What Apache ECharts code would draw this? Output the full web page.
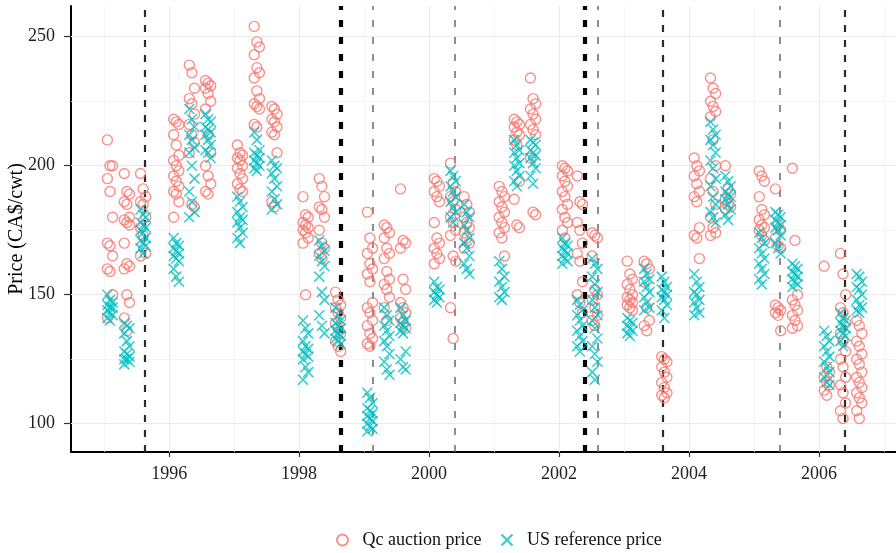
<!DOCTYPE html>
<html>
<head>
<meta charset="utf-8">
<script src="https://cdn.jsdelivr.net/npm/echarts@6/dist/echarts.min.js"></script>
<style>
    html, body { margin: 0; padding: 0; background: #fff; }
    #myChart { width: 896px; height: 553px; }
</style>
</head>
<body>
<div id="myChart"></div>
<script>
// sale dates of each auction season (3 sales per season)
var saleDates = [
    [1995.05, 1995.09, 1995.13], [1995.31, 1995.35, 1995.39], [1995.56, 1995.60, 1995.64],
    [1996.07, 1996.11, 1996.15], [1996.31, 1996.35, 1996.39], [1996.56, 1996.60, 1996.64],
    [1997.05, 1997.09, 1997.13], [1997.31, 1997.35, 1997.39], [1997.58, 1997.62, 1997.66],
    [1998.06, 1998.10, 1998.14], [1998.31, 1998.35, 1998.39], [1998.56, 1998.60, 1998.64],
    [1999.05, 1999.09, 1999.13], [1999.31, 1999.35, 1999.39], [1999.56, 1999.60, 1999.64],
    [2000.08, 2000.12, 2000.16], [2000.33, 2000.37, 2000.41], [2000.54, 2000.58, 2000.62],
    [2001.08, 2001.12, 2001.16], [2001.31, 2001.35, 2001.39], [2001.56, 2001.60, 2001.64],
    [2002.05, 2002.09, 2002.13], [2002.28, 2002.32, 2002.36], [2002.51, 2002.55, 2002.59],
    [2003.05, 2003.09, 2003.13], [2003.31, 2003.35, 2003.39], [2003.58, 2003.62, 2003.66],
    [2004.08, 2004.12, 2004.16], [2004.33, 2004.37, 2004.41], [2004.56, 2004.60, 2004.64],
    [2005.08, 2005.12, 2005.16], [2005.33, 2005.37, 2005.41], [2005.59, 2005.63, 2005.67],
    [2006.08, 2006.12, 2006.16], [2006.33, 2006.37, 2006.41], [2006.58, 2006.62, 2006.66]
];

// Qc auction price, one list per season
var qcPrices = [
    [210, 200, 200, 195, 190, 180, 170, 169, 165, 160, 159, 150, 141],
    [197, 190, 189, 186, 185, 180, 179, 178, 177, 170, 162, 161, 160, 150, 147, 141, 136],
    [197, 191, 188, 186, 185, 180, 176, 173, 166, 165],
    [218, 217, 216, 212, 208, 204, 202, 200, 198, 196, 194, 192, 190, 189, 186, 180],
    [239, 236, 230, 226, 224, 220, 216, 212, 209, 205, 185, 184],
    [233, 232, 231, 230, 228, 225, 222, 212, 205, 200, 196, 193, 190, 189],
    [208, 205, 204, 203, 202, 200, 199, 197, 195, 193, 191, 190],
    [254, 248, 246, 243, 238, 236, 234, 229, 226, 224, 223, 222, 216, 215],
    [223, 222, 220, 218, 217, 215, 213, 212, 205, 186, 184],
    [188, 181, 180, 178, 177, 176, 175, 174, 172, 170, 150],
    [195, 192, 188, 184, 183, 180, 175, 170, 168, 166, 164],
    [151, 148, 146, 145, 143, 141, 139, 137, 135, 132, 130, 128],
    [182, 172, 168, 166, 162, 160, 158, 155, 147, 145, 143, 140, 138, 135, 133, 131, 130],
    [177, 176, 174, 172, 168, 166, 164, 159, 156, 154, 152, 149, 145, 140],
    [191, 171, 170, 168, 156, 152, 147, 145, 143, 141, 139, 137],
    [195, 194, 192, 190, 188, 186, 178, 172, 170, 168, 166, 164, 162],
    [201, 193, 190, 188, 186, 183, 180, 178, 175, 173, 165, 163, 145, 133],
    [188, 185, 182, 180, 178, 176, 174, 172, 170, 168],
    [192, 190, 188, 186, 184, 182, 180, 178, 176, 174, 172, 165],
    [218, 217, 216, 215, 213, 212, 210, 208, 194, 187, 177, 176],
    [234, 226, 224, 222, 220, 218, 216, 214, 212, 203, 182, 181],
    [200, 199, 198, 196, 194, 192, 190, 188, 185, 183, 180, 178, 175, 172],
    [196, 186, 185, 178, 175, 170, 166, 163, 155, 150, 147, 143],
    [174, 173, 172, 165, 152, 150, 148, 145, 142, 140, 138],
    [163, 158, 156, 154, 152, 150, 149, 148, 147, 146, 145, 144],
    [163, 162, 160, 155, 145, 140, 138, 136],
    [126, 125, 124, 122, 120, 118, 116, 114, 112, 111, 110],
    [203, 200, 198, 196, 193, 190, 188, 186, 176, 173, 172, 164],
    [234, 230, 228, 225, 223, 221, 219, 210, 200, 195, 190, 185, 180, 176, 174, 173],
    [200, 191, 189, 187, 185, 184, 183],
    [198, 196, 194, 188, 183, 181, 179, 177, 176, 175, 173, 171],
    [191, 177, 175, 172, 169, 168, 146, 145, 144, 143, 142, 136],
    [199, 171, 150, 148, 146, 144, 142, 140, 138, 137],
    [161, 122, 120, 118, 116, 115, 113, 111],
    [166, 158, 150, 145, 143, 139, 135, 132, 128, 125, 122, 118, 115, 112, 108, 105, 102],
    [140, 138, 135, 132, 130, 127, 125, 123, 120, 118, 116, 114, 112, 110, 108, 105, 102]
];

// US reference price, one list per season
var usPrices = [
    [150, 148, 147, 146, 145, 145, 144, 143, 142, 141, 140],
    [139, 138, 137, 135, 132, 130, 128, 127, 126, 125, 125, 124, 123],
    [183, 181, 180, 178, 177, 176, 175, 174, 172, 171, 170, 169, 168, 166],
    [172, 170, 169, 168, 167, 166, 165, 164, 163, 160, 157, 155],
    [222, 218, 215, 212, 210, 207, 205, 200, 195, 190, 186, 182, 180],
    [220, 218, 217, 215, 214, 213, 212, 210, 208, 206, 205, 203],
    [188, 186, 184, 182, 180, 179, 178, 176, 174, 172, 170],
    [213, 210, 206, 205, 204, 203, 202, 201, 200, 199, 198],
    [202, 200, 199, 197, 195, 192, 190, 187, 185, 183],
    [140, 137, 135, 132, 130, 129, 128, 127, 126, 125, 122, 120, 117],
    [171, 169, 167, 165, 163, 161, 157, 151, 148, 142, 138, 135],
    [145, 142, 140, 139, 138, 137, 136, 135, 134, 133, 132, 131],
    [112, 110, 108, 106, 105, 104, 103, 102, 101, 100, 99, 98, 97],
    [145, 142, 140, 138, 136, 134, 132, 130, 127, 124, 121, 119],
    [145, 142, 140, 139, 138, 137, 136, 135, 128, 125, 122, 121],
    [155, 153, 152, 151, 150, 149, 148, 147],
    [198, 196, 194, 192, 190, 188, 186, 184, 182, 180, 178],
    [185, 182, 180, 177, 175, 172, 170, 168, 165, 162, 160, 158],
    [163, 160, 157, 155, 153, 151, 149, 148],
    [210, 208, 206, 205, 203, 201, 200, 198, 196, 194, 192],
    [210, 209, 208, 206, 205, 204, 203, 201, 199, 196, 193],
    [172, 170, 169, 168, 167, 166, 165, 164, 163, 162],
    [148, 146, 144, 142, 140, 138, 136, 134, 132, 130, 128],
    [164, 162, 160, 157, 154, 151, 148, 145, 142, 140, 137, 133, 130, 127, 124, 120, 117],
    [141, 140, 139, 138, 137, 136, 135, 134],
    [160, 158, 156, 155, 153, 151, 149, 147, 145, 144],
    [157, 155, 153, 152, 151, 150, 149, 148, 146, 144, 141],
    [158, 155, 153, 151, 150, 148, 147, 145, 143, 142],
    [217, 214, 212, 210, 208, 205, 202, 199, 195, 192, 188, 185, 182, 180, 178],
    [196, 194, 192, 190, 189, 188, 187, 185, 183, 181, 179],
    [174, 172, 170, 168, 166, 164, 162, 160, 158, 156, 154],
    [182, 181, 180, 179, 178, 177, 176, 175, 173, 170, 168, 166],
    [162, 161, 160, 159, 158, 157, 156, 155, 154, 153],
    [136, 134, 132, 130, 128, 126, 124, 122, 120, 118, 116, 115],
    [143, 141, 140, 139, 138, 137, 136, 135, 134, 132, 130],
    [158, 157, 155, 153, 152, 150, 148, 146, 145, 144, 143]
];

// axis ticks
var xTicks = [1996, 1998, 2000, 2002, 2004, 2006];
var xMinorTicks = [1995, 1997, 1999, 2001, 2003, 2005, 2007];
var yTicks = [100, 150, 200, 250];
var yMinorTicks = [125, 175, 225];

// event dates (vertical dashed lines)
var eventsMajor = [1998.64, 2002.39];
var eventsDark = [1995.62, 2003.60, 2006.40];
var eventsLight = [1999.14, 2000.40, 2002.60, 2005.40];

var SERIF = 'Liberation Serif, Times New Roman, serif';
var QC_COLOR = '#F8766D';
var US_COLOR = '#00BFC4';
var CROSS = 'path://M0,0L10,10M10,0L0,10';

function toPoints(prices) {
    var pts = [];
    for (var g = 0; g < prices.length; g++) {
        for (var i = 0; i < prices[g].length; i++) {
            pts.push([saleDates[g][i % saleDates[g].length], prices[g][i]]);
        }
    }
    return pts;
}

var gridLines = [];
xTicks.forEach(function (v) { gridLines.push({ xAxis: v, lineStyle: { color: '#EBEBEB', width: 1.1, type: 'solid' } }); });
xMinorTicks.forEach(function (v) { gridLines.push({ xAxis: v, lineStyle: { color: '#F3F3F3', width: 0.8, type: 'solid' } }); });
yTicks.forEach(function (v) { gridLines.push({ yAxis: v, lineStyle: { color: '#EBEBEB', width: 1.1, type: 'solid' } }); });
yMinorTicks.forEach(function (v) { gridLines.push({ yAxis: v, lineStyle: { color: '#F3F3F3', width: 0.8, type: 'solid' } }); });

var eventLines = [];
eventsMajor.forEach(function (v) { eventLines.push({ xAxis: v, lineStyle: { color: '#000', width: 4.2, type: [7, 10] } }); });
eventsDark.forEach(function (v) { eventLines.push({ xAxis: v, lineStyle: { color: '#2b2b2b', width: 2.2, type: [7, 8] } }); });
eventsLight.forEach(function (v) { eventLines.push({ xAxis: v, lineStyle: { color: '#6a6a6a', width: 1.5, type: [7, 10] } }); });

var dom = document.getElementById('myChart');
var myChart = echarts.init(dom, null, { renderer: 'canvas' });

var option = {
    animation: false,
    backgroundColor: '#fff',
    grid: {
        left: 71,
        right: 0,
        top: 6,
        bottom: 101,
        containLabel: false,
        outerBoundsMode: 'none'
    },
    legend: {
        left: 336,
        top: 531,
        padding: 0,
        itemWidth: 30,
        itemHeight: 11,
        itemGap: 19,
        textStyle: { fontFamily: SERIF, fontSize: 18, color: '#111' },
        data: [
            { name: 'Qc auction price', icon: 'circle' },
            { name: 'US reference price', icon: CROSS }
        ]
    },
    xAxis: {
        type: 'value',
        min: 1994.49,
        max: 2007.185,
        axisLine: { show: true, onZero: false, lineStyle: { color: '#000', width: 2 } },
        axisTick: { show: true, customValues: xTicks, length: 5, lineStyle: { color: '#333', width: 1.2 } },
        axisLabel: {
            customValues: xTicks,
            margin: 13,
            fontFamily: SERIF,
            fontSize: 18,
            color: '#222',
            formatter: function (v) { return String(v); }
        },
        splitLine: { show: false }
    },
    yAxis: {
        type: 'value',
        min: 89.03,
        max: 261.9,
        name: 'Price (CA$/cwt)',
        nameLocation: 'middle',
        nameGap: 44,
        nameMoveOverlap: false,
        nameTextStyle: { fontFamily: SERIF, fontSize: 20, color: '#000' },
        axisLine: { show: true, onZero: false, lineStyle: { color: '#000', width: 2 } },
        axisTick: { show: true, customValues: yTicks, length: 7, lineStyle: { color: '#333', width: 1.2 } },
        axisLabel: {
            customValues: yTicks,
            margin: 16,
            fontFamily: SERIF,
            fontSize: 18,
            color: '#222'
        },
        splitLine: { show: false }
    },
    series: [
        {
            // background grid
            type: 'scatter',
            data: [],
            silent: true,
            markLine: {
                silent: true,
                z: 1,
                symbol: ['none', 'none'],
                label: { show: false },
                data: gridLines
            }
        },
        {
            // event lines
            type: 'scatter',
            data: [],
            silent: true,
            markLine: {
                silent: true,
                z: 3,
                symbol: ['none', 'none'],
                label: { show: false },
                data: eventLines
            }
        },
        {
            name: 'Qc auction price',
            type: 'scatter',
            z: 10,
            symbol: 'circle',
            symbolSize: 10,
            itemStyle: { color: 'rgba(255,255,255,0)', borderColor: QC_COLOR, borderWidth: 1.4 },
            data: toPoints(qcPrices)
        },
        {
            name: 'US reference price',
            type: 'scatter',
            z: 11,
            symbol: CROSS,
            symbolSize: 10,
            itemStyle: { color: 'rgba(255,255,255,0)', borderColor: US_COLOR, borderWidth: 1.5 },
            data: toPoints(usPrices)
        }
    ]
};
myChart.setOption(option, true);
</script>
</body>
</html>
